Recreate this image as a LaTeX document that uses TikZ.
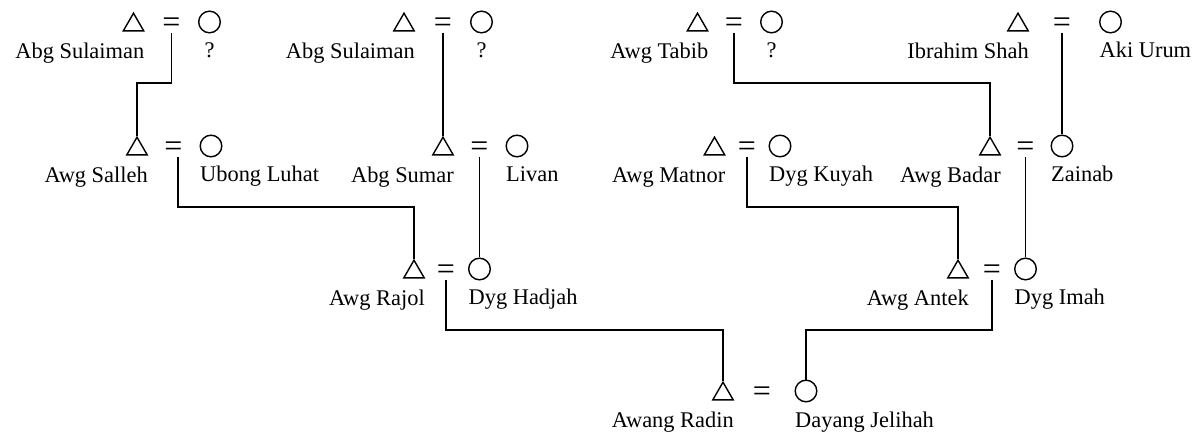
\documentclass[tikz,border=0pt]{standalone}
\usepackage{fontspec}
\setmainfont{Liberation Serif}
\usetikzlibrary{shapes.geometric}

\begin{document}
\begin{tikzpicture}
        [x=0.5pt,y=0.5pt,line width=0.7pt,
         every node/.style={font=\fontsize{11.2}{13}\selectfont},
         husband/.style={draw,regular polygon,regular polygon sides=3,inner sep=0,minimum size=11.8pt,yshift=-1.5pt},
         wife/.style={draw,circle,inner sep=0,minimum size=10.8pt},
         wed/.style={inner sep=0,font=\fontsize{16}{16}\selectfont,yshift=-1.4pt},
         hname/.style={inner sep=0,anchor=base east,yshift=-13.55pt},
         wname/.style={inner sep=0,anchor=base west,yshift=-18pt}]

        \useasboundingbox (0,0) rectangle (1199,434);

        % first generation
        \node[husband] (h1) at (133.5,412) {};
        \node[wed] (m1) at (171.5,412) {=};
        \node[wife] (w1) at (209.5,412) {};
        \node[husband] (h2) at (404,412) {};
        \node[wed] (m2) at (443,412) {=};
        \node[wife] (w2) at (481.5,412) {};
        \node[husband] (h3) at (697.5,412) {};
        \node[wed] (m3) at (734,412) {=};
        \node[wife] (w3) at (771.5,412) {};
        \node[husband] (h4) at (1018,412) {};
        \node[wed] (m4) at (1062,412) {=};
        \node[wife] (w4) at (1110.5,412) {};

        % second generation
        \node[husband] (h5) at (137,288) {};
        \node[wed] (m5) at (173.5,288) {=};
        \node[wife] (w5) at (211,288) {};
        \node[husband] (h6) at (443,288) {};
        \node[wed] (m6) at (479.5,288) {=};
        \node[wife] (w6) at (517,288) {};
        \node[husband] (h7) at (714.5,288) {};
        \node[wed] (m7) at (747,288) {=};
        \node[wife] (w7) at (780,288) {};
        \node[husband] (h8) at (990,288) {};
        \node[wed] (m8) at (1025.5,288) {=};
        \node[wife] (w8) at (1062,288) {};

        % third generation
        \node[husband] (h9) at (414,165) {};
        \node[wed] (m9) at (446,165) {=};
        \node[wife] (w9) at (479.5,165) {};
        \node[husband] (h10) at (958,165) {};
        \node[wed] (m10) at (992,165) {=};
        \node[wife] (w10) at (1025.5,165) {};

        % the couple at the bottom
        \node[husband] (h11) at (723,43) {};
        \node[wed] (m11) at (762,43) {=};
        \node[wife] (w11) at (806,43) {};

        % names
        \node[hname] (hn1) at (h1.corner 3) {Abg Sulaiman};
        \node[wname,anchor=base] (wn1) at (w1.center) {?};
        \node[hname] (hn2) at (h2.corner 3) {Abg Sulaiman};
        \node[wname,anchor=base] (wn2) at (w2.center) {?};
        \node[hname] (hn3) at (h3.corner 3) {Awg Tabib};
        \node[wname,anchor=base] (wn3) at (w3.center) {?};
        \node[hname] (hn4) at (h4.corner 3) {Ibrahim Shah};
        \node[wname] (wn4) at (w4.west) {Aki Urum};
        \node[hname] (hn5) at (h5.corner 3) {Awg Salleh};
        \node[wname] (wn5) at (w5.west) {Ubong Luhat};
        \node[hname] (hn6) at (h6.corner 3) {Abg Sumar};
        \node[wname] (wn6) at (w6.west) {Livan};
        \node[hname] (hn7) at (h7.corner 3) {Awg Matnor};
        \node[wname] (wn7) at (w7.west) {Dyg Kuyah};
        \node[hname] (hn8) at (h8.corner 3) {Awg Badar};
        \node[wname] (wn8) at (w8.west) {Zainab};
        \node[hname] (hn9) at (h9.corner 3) {Awg Rajol};
        \node[wname] (wn9) at (w9.west) {Dyg Hadjah};
        \node[hname] (hn10) at (h10.corner 3) {Awg Antek};
        \node[wname] (wn10) at (w10.west) {Dyg Imah};
        \node[hname] (hn11) at (h11.corner 3) {Awang Radin};
        \node[wname] (wn11) at (w11.west) {Dayang Jelihah};

        % descent lines
        \draw (m1.south) -- ++(0,-25pt) -| (h5.north);
        \draw (m2.south) -- ++(0,-25pt) -| (h6.north);
        \draw (m3.south) -- ++(0,-25pt) -| (h8.north);
        \draw (m4.south) -- ++(0,-25pt) -| (w8.north);
        \draw ([xshift=2.25pt]m5.south) -- ++(0,-25pt) -| (h9.north);
        \draw (m6.south) -- ++(0,-25pt) -| (w9.north);
        \draw (m7.south) -- ++(0,-25pt) -| (h10.north);
        \draw (m8.south) -- ++(0,-25pt) -| (w10.north);
        \draw (m9.south) -- ++(0,-25pt) -| (h11.north);
        \draw (m10.south) -- ++(0,-25pt) -| (w11.north);
      \end{tikzpicture}
\end{document}
